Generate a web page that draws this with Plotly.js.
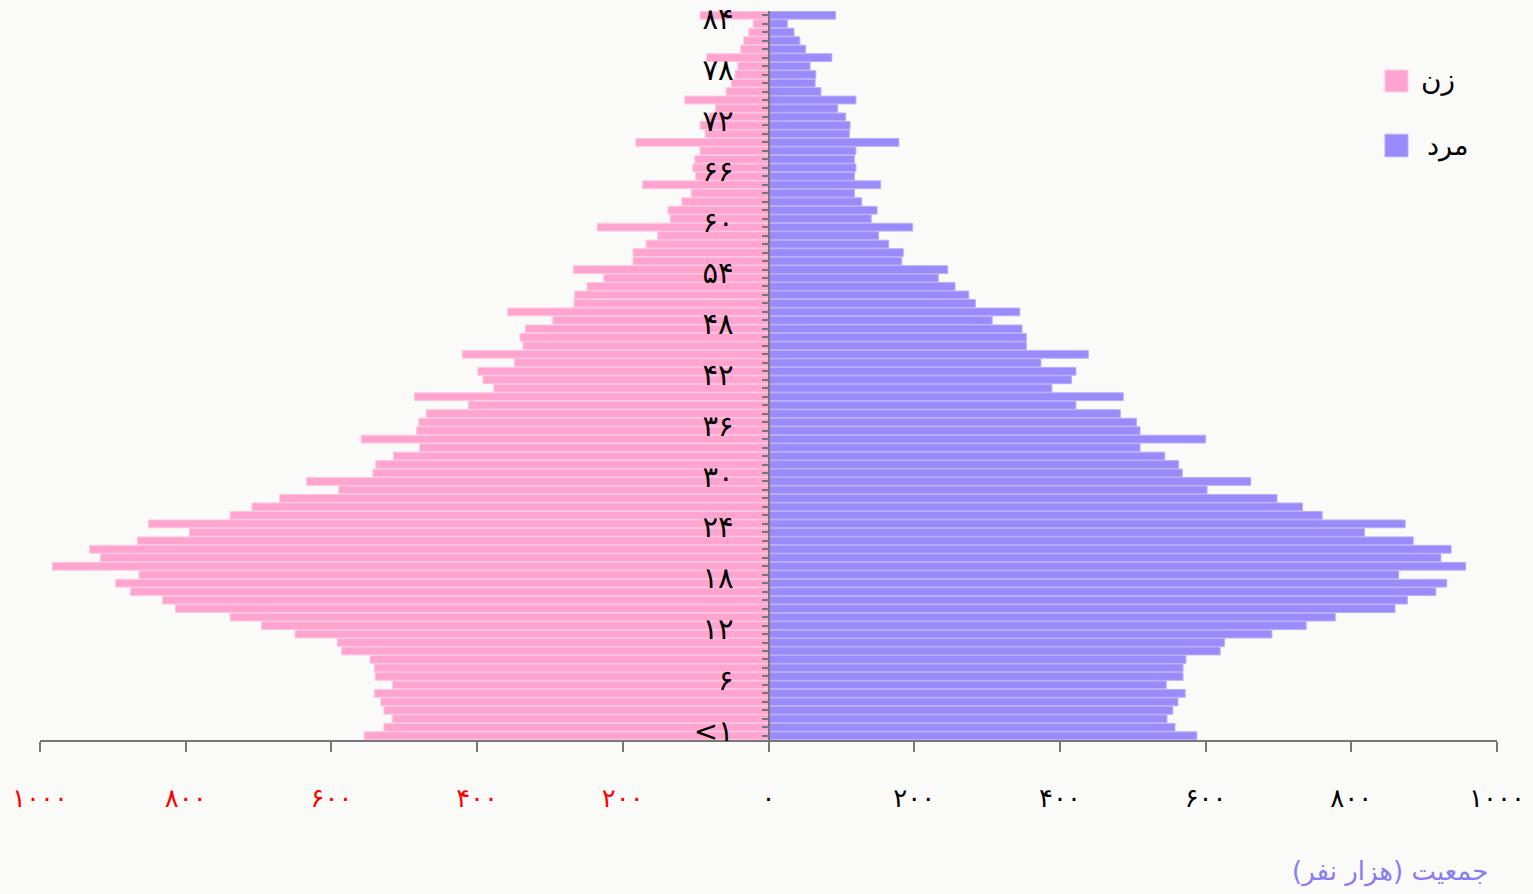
<!DOCTYPE html>
<html>
<head>
<meta charset="utf-8">
<script src="https://cdn.plot.ly/plotly-3.0.1.min.js"></script>
<style>
html,body{margin:0;padding:0;background:#fafaf8;}
#chart{width:1533px;height:894px;}
</style>
</head>
<body>
<div id="chart"></div>
<script>
// Ages 0..85 (85 = 85+)
const ages = [0,1,2,3,4,5,6,7,8,9,10,11,12,13,14,15,16,17,18,19,20,21,22,23,24,25,26,27,28,29,30,31,32,33,34,35,36,37,38,39,40,41,42,43,44,45,46,47,48,49,50,51,52,53,54,55,56,57,58,59,60,61,62,63,64,65,66,67,68,69,70,71,72,73,74,75,76,77,78,79,80,81,82,83,84,85];

// Female population (thousands), age 0..85
const female = [555,528,516,528,532,541,516,540,541,547,586,592,650,696,739,814,832,876,896,864,983,917,932,866,795,851,739,709,671,590,634,543,539,515,479,559,483,480,470,412,486,377,392,399,349,420,337,341,334,296,358,267,266,249,226,268,186,186,168,152,235,135,138,119,106,173,100,104,101,94,182,87,94,82,73,115,58,51,46,42,85,38,34,27,21,94];

// Male population (thousands), age 0..85
const male = [588,558,547,555,562,572,546,569,569,573,620,626,691,738,778,860,877,916,931,865,957,923,937,885,818,874,760,733,698,602,662,568,563,544,510,600,510,505,483,422,487,389,416,422,374,439,354,354,348,307,345,284,275,256,233,246,183,185,165,151,198,141,149,128,118,154,118,120,118,120,179,111,112,106,95,120,72,64,65,57,87,51,43,35,26,92];

// Y tick labels
const yLabelAges = [0,6,12,18,24,30,36,42,48,54,60,66,72,78,84];
const yLabelText = ['<۱','۶','۱۲','۱۸','۲۴','۳۰','۳۶','۴۲','۴۸','۵۴','۶۰','۶۶','۷۲','۷۸','۸۴'];

// X tick values and labels
const xTickVals = [-1000,-800,-600,-400,-200,0,200,400,600,800,1000];
const xTickText = ['۱۰۰۰','۸۰۰','۶۰۰','۴۰۰','۲۰۰','۰','۲۰۰','۴۰۰','۶۰۰','۸۰۰','۱۰۰۰'];

const seriesNames = ['زن','مرد'];
const axisTitle = 'جمعیت (هزار نفر)';

const pinkFill = '#ffa3cf', pinkLine = '#ffc6e1';
const blueFill = '#9a8bfb', blueLine = '#b9aefc';

const yTickVals = ages.slice();
const yTickText = ages.map(a => {
  const i = yLabelAges.indexOf(a);
  return i >= 0 ? yLabelText[i] : '';
});

const xTickLabels = xTickText.map((t, i) =>
  xTickVals[i] < 0 ? '<span style="color:#ff0000">' + t + '</span>' : t);

const traces = [
  {
    type: 'bar', orientation: 'h', name: seriesNames[0],
    y: ages, x: female.map(v => -v),
    marker: {color: pinkFill, line: {color: pinkLine, width: 1}},
    showlegend: false, hoverinfo: 'skip'
  },
  {
    type: 'bar', orientation: 'h', name: seriesNames[1],
    y: ages, x: male,
    marker: {color: blueFill, line: {color: blueLine, width: 1}},
    showlegend: false, hoverinfo: 'skip'
  }
];

const layout = {
  width: 1533, height: 894,
  paper_bgcolor: '#fafaf8', plot_bgcolor: '#fafaf8',
  margin: {l: 40, r: 36, t: 11, b: 154},
  barmode: 'overlay', bargap: 0.08,
  font: {family: 'DejaVu Sans, sans-serif', color: '#000'},
  xaxis: {
    range: [-1000, 1000], tickmode: 'array', tickvals: xTickVals, ticktext: xTickLabels,
    ticks: 'outside', ticklen: 10, tickwidth: 2, tickcolor: '#777',
    showline: true, linecolor: '#777', linewidth: 2,
    showgrid: false, zeroline: false, ticklabelstandoff: 24,
    tickfont: {size: 26, color: '#000', family: 'DejaVu Sans, sans-serif'}
  },
  yaxis: {
    range: [-0.5, 85.5], anchor: 'free', position: 0.5,
    tickmode: 'array', tickvals: yTickVals, ticktext: yTickText,
    ticks: 'outside', ticklen: 6, tickwidth: 2, tickcolor: '#777',
    showline: true, linecolor: '#777', linewidth: 2,
    showgrid: false, zeroline: false, ticklabelstandoff: 22, ticklabelshift: -5,
    tickfont: {size: 29, color: '#000', family: 'DejaVu Sans, sans-serif'}
  },
  shapes: [
    {type: 'rect', xref: 'paper', yref: 'paper', x0: 0.9231, x1: 0.9389, y0: 0.889, y1: 0.919,
     fillcolor: pinkFill, line: {color: pinkLine, width: 1}},
    {type: 'rect', xref: 'paper', yref: 'paper', x0: 0.9231, x1: 0.9389, y0: 0.800, y1: 0.831,
     fillcolor: blueFill, line: {color: blueLine, width: 1}}
  ],
  annotations: [
    {xref: 'paper', yref: 'paper', x: 0.9465, y: 0.906, xanchor: 'left', yanchor: 'middle',
     text: seriesNames[0], showarrow: false, font: {size: 28, color: '#000'}},
    {xref: 'paper', yref: 'paper', x: 0.9505, y: 0.815, xanchor: 'left', yanchor: 'middle',
     text: seriesNames[1], showarrow: false, font: {size: 27, color: '#000'}},
    {xref: 'paper', yref: 'paper', x: 0.9952, y: -0.181, xanchor: 'right', yanchor: 'middle',
     text: '\u200F' + axisTitle + '\u200F', showarrow: false, font: {size: 26, color: '#8a7cf2'}}
  ]
};

Plotly.newPlot('chart', traces, layout, {staticPlot: true, displayModeBar: false});
</script>
</body>
</html>
